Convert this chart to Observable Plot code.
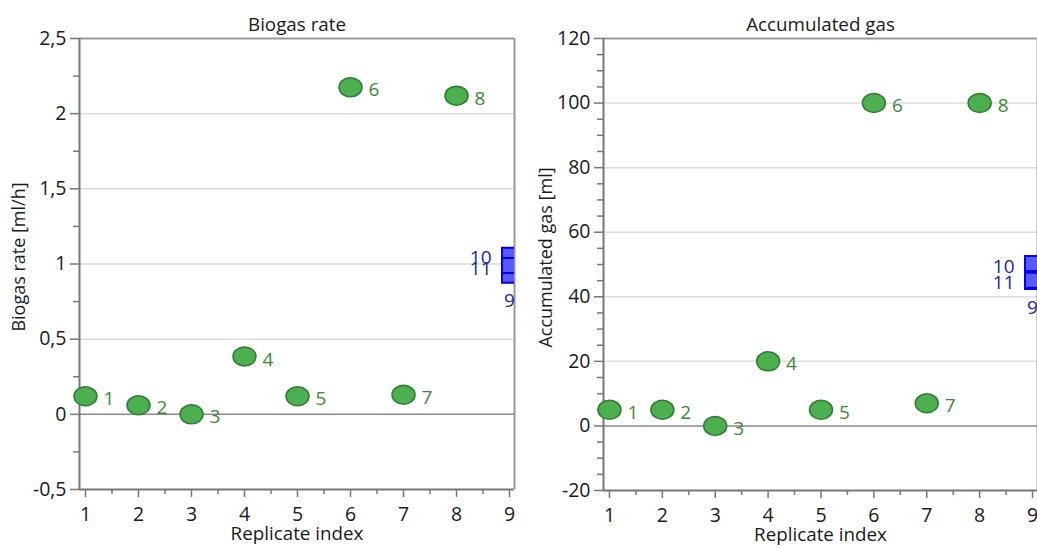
<!DOCTYPE html>
<html><head><meta charset="utf-8">
<script src="https://cdn.jsdelivr.net/npm/d3@7"></script>
<script src="https://cdn.jsdelivr.net/npm/@observablehq/plot@0.6"></script>
<style>
body{margin:0;background:#fff;}
#wrap{position:relative;width:1037px;height:548px;overflow:hidden;}
#left{position:absolute;left:0;top:0;}
#right{position:absolute;left:530px;top:0;}
</style></head><body><div id="wrap"><div id="left"></div><div id="right"></div></div>
<script>
// ---- data ----
const replicates = [1, 2, 3, 4, 5, 6, 7, 8];
const biogasRate = [0.12, 0.06, 0, 0.385, 0.12, 2.175, 0.13, 2.12];
const accumulatedGas = [5, 5, 0, 20, 5, 100, 7, 100];
const refIds = [9, 10, 11];
const refReplicate = [9, 9, 9];
const refBiogasRate = [0.925, 1.058, 0.99];
const refAccumulatedGas = [44.7, 50.3, 45.1];
const titles = ["Biogas rate", "Accumulated gas"];
const yLabels = ["Biogas rate [ml/h]", "Accumulated gas [ml]"];
const xLabel = "Replicate index";
const xTicks = [1, 2, 3, 4, 5, 6, 7, 8, 9];
const yTicksRate = [-0.5, 0, 0.5, 1, 1.5, 2, 2.5];
const yTicksGas = [-20, 0, 20, 40, 60, 80, 100, 120];

// ---- symbols ----
const ellipse = {draw(ctx) {
  const rx = 11.5, ry = 9.5, k = 0.5523;
  ctx.moveTo(rx, 0);
  ctx.bezierCurveTo(rx, ry * k, rx * k, ry, 0, ry);
  ctx.bezierCurveTo(-rx * k, ry, -rx, ry * k, -rx, 0);
  ctx.bezierCurveTo(-rx, -ry * k, -rx * k, -ry, 0, -ry);
  ctx.bezierCurveTo(rx * k, -ry, rx, -ry * k, rx, 0);
  ctx.closePath();
}};
const square = {draw(ctx) { const h = 7.5; ctx.rect(-h, -h, 2 * h, 2 * h); }};

const fmt = d => String(d).replace(".", ",");
const FONT = "'Open Sans', 'Noto Sans', sans-serif";

function panel({values, refValues, yTicks, minorStep, title, yLabel, width, marginLeft, marginRight, marginBottom, yLabelDx}) {
  const samples = replicates.map((r, i) => ({r, v: values[i], id: String(r)}));
  const refs = refIds.map((id, i) => ({r: refReplicate[i], v: refValues[i], id: String(id)}));
  const yDom = [yTicks[0], yTicks[yTicks.length - 1]];
  const xDom = [0.887, 9.094];
  const minor = d3.range(yDom[0], yDom[1] + 1e-9, minorStep).filter(t => !yTicks.some(m => Math.abs(m - t) < 1e-9));
  const xMinor = d3.range(1.5, 9, 1);
  const inner = yTicks.slice(1, -1).filter(t => t !== 0);
  return Plot.plot({
    width, height: 548,
    marginLeft, marginRight, marginTop: 38, marginBottom,
    x: {domain: xDom},
    y: {domain: yDom},
    style: {fontFamily: FONT, fontSize: "19px", background: "#fff", overflow: "visible"},
    marks: [
      Plot.gridY(inner, {stroke: "#dddddd", strokeOpacity: 1, strokeWidth: 1.5}),
      Plot.ruleY([0], {stroke: "#888", strokeWidth: 1.5}),
      Plot.ruleY([yDom[1]], {stroke: "#999", strokeWidth: 2}),
      Plot.ruleX([xDom[1]], {stroke: "#999", strokeWidth: 2}),
      Plot.ruleY([yDom[0]], {stroke: "#777", strokeWidth: 2}),
      Plot.ruleX([xDom[0]], {stroke: "#777", strokeWidth: 2}),
      Plot.axisY({ticks: yTicks, tickSize: 9, tickPadding: 4, tickFormat: fmt, label: null, stroke: "#777", strokeWidth: 1.5, color: "#1a1a1a", fontSize: 19.5}),
      Plot.axisY({ticks: minor, tickSize: 6, tickFormat: () => "", label: null, stroke: "#777", strokeWidth: 1.5}),
      Plot.axisX({ticks: xTicks, tickSize: 8, tickPadding: 10, tickFormat: d => String(d), label: null, stroke: "#777", strokeWidth: 1.5, color: "#1a1a1a", fontSize: 19.5}),
      Plot.axisX({ticks: xMinor, tickSize: 5, tickFormat: () => "", label: null, stroke: "#777", strokeWidth: 1.5}),
      Plot.dot(refs, {x: "r", y: "v", symbol: square, fill: "#5a5aff", stroke: "#0000ee", strokeWidth: 2, clip: true}),
      Plot.text(refs, {filter: d => d.id !== "9", x: "r", y: "v", text: "id", textAnchor: "end", dx: -18, dy: 3, fill: "#2424a8", fontSize: 19}),
      Plot.text(refs, {filter: d => d.id === "9", x: "r", y: "v", text: "id", textAnchor: "middle", dx: 0, dy: 26, fill: "#2424a8", fontSize: 19}),
      Plot.dot(samples, {x: "r", y: "v", symbol: ellipse, fill: "#4caf50", stroke: "#2e7d32", strokeWidth: 1.5}),
      Plot.text(samples, {x: "r", y: "v", text: "id", textAnchor: "start", dx: 18, dy: 3, fill: "#3a8a3a", fontSize: 19}),
      Plot.text([title], {frameAnchor: "top", dy: -21, fontSize: 18.8, fill: "#1a1a1a"}),
      Plot.text([yLabel], {frameAnchor: "left", textAnchor: "middle", rotate: -90, dx: yLabelDx, dy: -7, fontSize: 18, fill: "#1a1a1a"}),
      Plot.text([xLabel], {frameAnchor: "bottom", dy: 50, fontSize: 18.8, fill: "#1a1a1a"})
    ]
  });
}

document.getElementById("left").appendChild(panel({
  values: biogasRate, refValues: refBiogasRate, yTicks: yTicksRate, minorStep: 0.25,
  title: titles[0], yLabel: yLabels[0], width: 530, marginLeft: 79, marginRight: 16, marginBottom: 59, yLabelDx: -60
}));
document.getElementById("right").appendChild(panel({
  values: accumulatedGas, refValues: refAccumulatedGas, yTicks: yTicksGas, minorStep: 5,
  title: titles[1], yLabel: yLabels[1], width: 507, marginLeft: 73, marginRight: 0, marginBottom: 58, yLabelDx: -57
}));
</script></body></html>
